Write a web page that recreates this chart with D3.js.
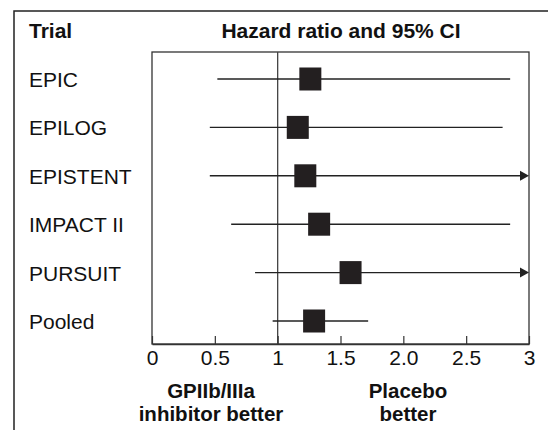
<!DOCTYPE html>
<html>
<head>
<meta charset="utf-8">
<script src="https://cdn.jsdelivr.net/npm/d3@7"></script>
<style>
  body { margin: 0; background: #fff; }
  text { font-family: "Liberation Sans", Arial, sans-serif; fill: #111; }
</style>
</head>
<body>
<div id="chart"></div>
<script>
// 試驗資料
const trials = ["EPIC", "EPILOG", "EPISTENT", "IMPACT II", "PURSUIT", "Pooled"];
const hazard = [1.26, 1.16, 1.22, 1.33, 1.58, 1.29];
const lower = [0.52, 0.46, 0.46, 0.63, 0.82, 0.96];
const upper = [2.85, 2.79, 3.0, 2.85, 3.0, 1.72];
const clipped = [false, false, true, false, true, false];
const ticks = [0, 0.5, 1, 1.5, 2.0, 2.5, 3];
const tickLabels = ["0", "0.5", "1", "1.5", "2.0", "2.5", "3"];

const width = 548, height = 430;
const plot = { left: 152, right: 529, top: 52, bottom: 344 };
const fontSize = 21;

const svg = d3.select("#chart").append("svg")
  .attr("width", width).attr("height", height);

// 外框
svg.append("rect")
  .attr("x", 14).attr("y", 11)
  .attr("width", 560).attr("height", 440)
  .attr("fill", "none").attr("stroke", "#222").attr("stroke-width", 1.5);

const x = d3.scaleLinear().domain([0, 3]).range([plot.left, plot.right]);
const y = d3.scalePoint().domain(trials).range([79, 321]);

// 圖框
svg.append("rect")
  .attr("x", plot.left).attr("y", plot.top)
  .attr("width", plot.right - plot.left).attr("height", plot.bottom - plot.top)
  .attr("fill", "none").attr("stroke", "#333").attr("stroke-width", 1.3);

// 參考線 x = 1
svg.append("line")
  .attr("x1", x(1)).attr("x2", x(1))
  .attr("y1", plot.top).attr("y2", plot.bottom)
  .attr("stroke", "#444").attr("stroke-width", 1.3);

// x 軸 (刻度向內)
const axis = d3.axisBottom(x).tickValues(ticks)
  .tickFormat((d, i) => tickLabels[i])
  .tickSizeInner(-8).tickSizeOuter(0).tickPadding(18);
const gx = svg.append("g").attr("transform", `translate(0,${plot.bottom})`).call(axis);
gx.select(".domain").attr("stroke", "#333").attr("stroke-width", 1.3);
gx.selectAll(".tick line").attr("stroke", "#333").attr("stroke-width", 1.2);
gx.selectAll(".tick text")
  .attr("y", 21).attr("dy", 0)
  .attr("font-size", fontSize).attr("font-family", "Liberation Sans, Arial, sans-serif")
  .attr("fill", "#111");

// 信賴區間
svg.append("g").selectAll("line")
  .data(trials)
  .join("line")
  .attr("x1", (d, i) => x(lower[i]))
  .attr("x2", (d, i) => clipped[i] ? x(upper[i]) - 7 : x(upper[i]))
  .attr("y1", (d) => y(d)).attr("y2", (d) => y(d))
  .attr("stroke", "#222").attr("stroke-width", 1.4);

// 箭頭
svg.append("g").selectAll("path")
  .data(trials.filter((d, i) => clipped[i]))
  .join("path")
  .attr("d", (d) => {
    const tx = x(3), ty = y(d);
    return `M${tx},${ty}L${tx - 9},${ty - 5}L${tx - 9},${ty + 5}Z`;
  })
  .attr("fill", "#222");

// 方塊
const size = 22;
svg.append("g").selectAll("rect")
  .data(trials)
  .join("rect")
  .attr("x", (d, i) => x(hazard[i]) - size / 2)
  .attr("y", (d) => y(d) - size / 2 - 0.5)
  .attr("width", size).attr("height", size + 1)
  .attr("fill", "#231f20");

// 試驗名稱
svg.append("g").selectAll("text")
  .data(trials)
  .join("text")
  .attr("x", 29).attr("y", (d) => y(d) + 8)
  .attr("font-size", fontSize)
  .text((d) => d);

// 標題
svg.append("text").attr("x", 29).attr("y", 38)
  .attr("font-size", fontSize).attr("font-weight", "bold").text("Trial");
svg.append("text").attr("x", 341).attr("y", 38)
  .attr("text-anchor", "middle")
  .attr("font-size", fontSize).attr("font-weight", "bold").text("Hazard ratio and 95% CI");

// 底部說明
const notes = [
  { cx: 211, lines: ["GPIIb/IIIa", "inhibitor better"] },
  { cx: 408, lines: ["Placebo", "better"] },
];
notes.forEach((n) => {
  n.lines.forEach((l, j) => {
    svg.append("text").attr("x", n.cx).attr("y", 398 + j * 23)
      .attr("text-anchor", "middle")
      .attr("font-size", 20.5).attr("font-weight", "bold").text(l);
  });
});
</script>
</body>
</html>
